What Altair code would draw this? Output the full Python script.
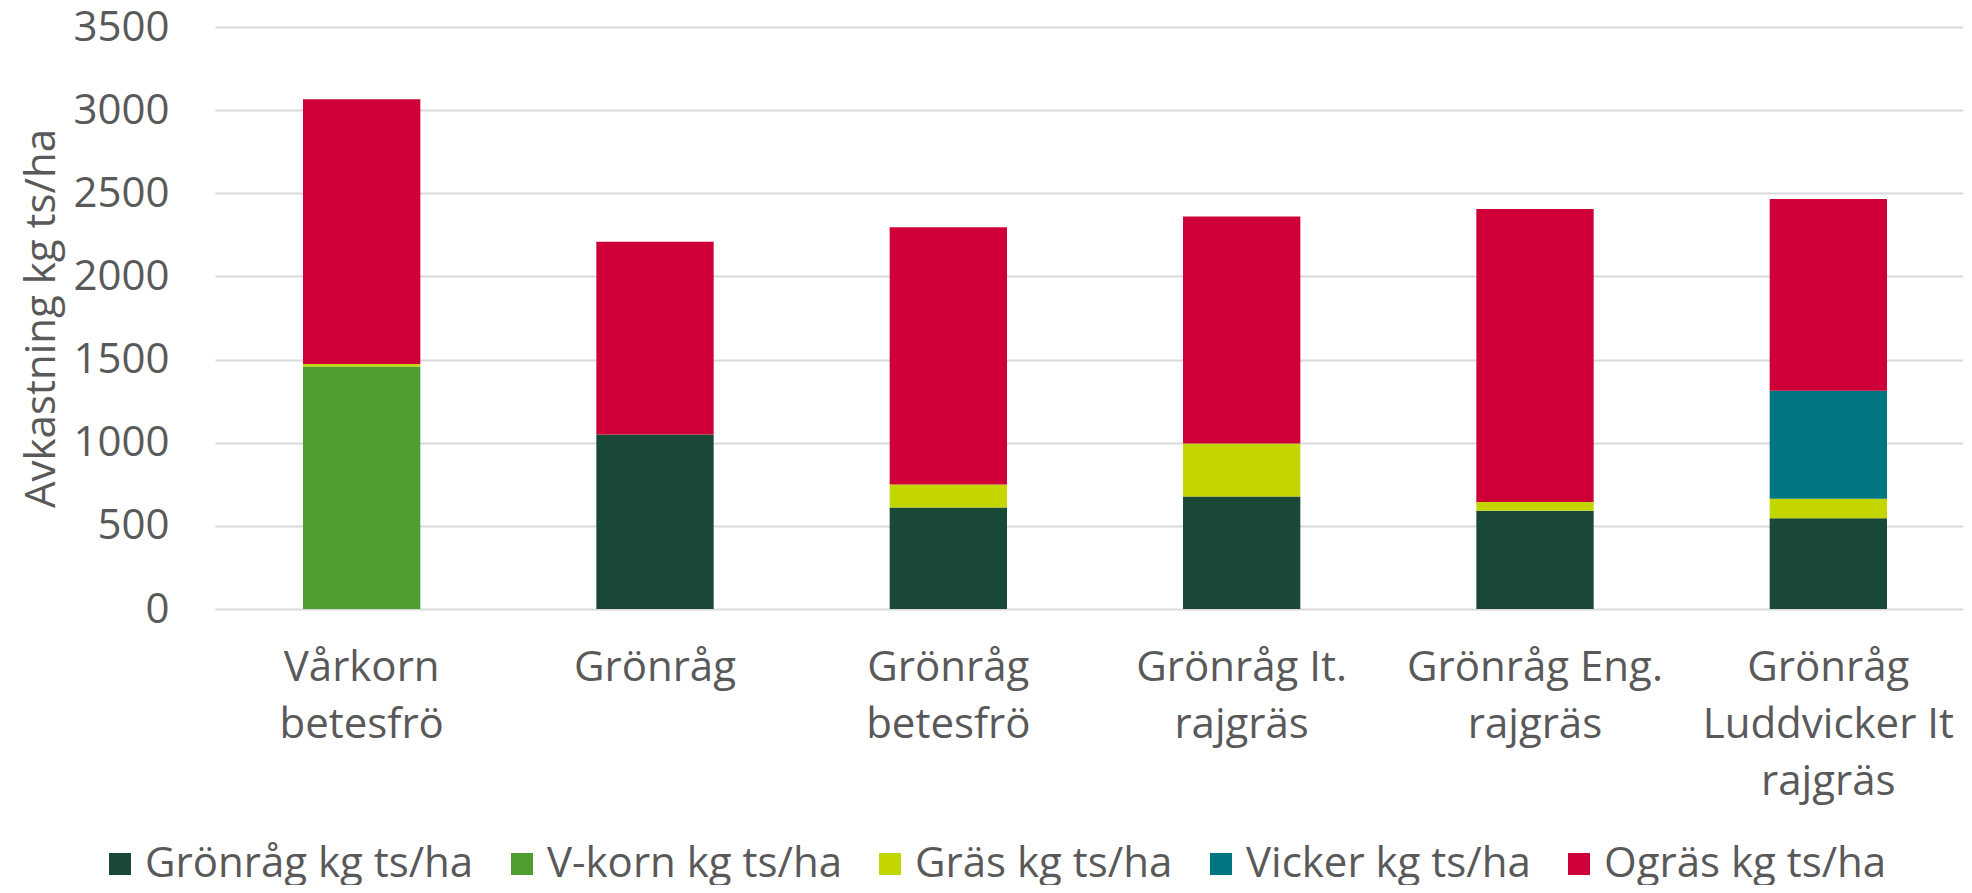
import json
import altair as alt
import pandas as pd

categories = [
    "Vårkorn betesfrö",
    "Grönråg",
    "Grönråg betesfrö",
    "Grönråg It. rajgräs",
    "Grönråg Eng. rajgräs",
    "Grönråg Luddvicker It rajgräs",
]
label_lines = [
    ["Vårkorn", "betesfrö"],
    ["Grönråg"],
    ["Grönråg", "betesfrö"],
    ["Grönråg It.", "rajgräs"],
    ["Grönråg Eng.", "rajgräs"],
    ["Grönråg", "Luddvicker It", "rajgräs"],
]
series = [
    "Grönråg kg ts/ha",
    "V-korn kg ts/ha",
    "Gräs kg ts/ha",
    "Vicker kg ts/ha",
    "Ogräs kg ts/ha",
]
colors = ["#194836", "#509D30", "#C4D600", "#007680", "#CE0037"]
y_ticks = [0, 500, 1000, 1500, 2000, 2500, 3000, 3500]

gronrag = [0, 1050, 611, 676, 591, 546]
vkorn = [1458, 0, 0, 0, 0, 0]
gras = [15, 0, 137, 319, 52, 117]
vicker = [0, 0, 0, 0, 0, 649]
ogras = [1593, 1159, 1548, 1366, 1763, 1154]

values = [gronrag, vkorn, gras, vicker, ogras]
rows = []
for si, (s, vals) in enumerate(zip(series, values)):
    for c, v in zip(categories, vals):
        if v > 0:
            rows.append({"kategori": c, "serie": s, "varde": v, "ordning": si})
df = pd.DataFrame(rows)

label_map = json.dumps(dict(zip(categories, label_lines)), ensure_ascii=False)

FONT = "Open Sans"
TXT = "#595959"

chart = (
    alt.Chart(df)
    .mark_bar()
    .encode(
        x=alt.X(
            "kategori:N",
            sort=categories,
            scale=alt.Scale(paddingInner=0.6, paddingOuter=0.3, range=[0, 1760]),
            axis=alt.Axis(
                title=None,
                labelAngle=0,
                labelExpr=label_map + "[datum.label]",
                labelFont=FONT,
                labelFontSize=42,
                labelColor=TXT,
                labelLineHeight=57,
                labelBaseline="top",
                labelPadding=38,
                labelLimit=0,
                ticks=False,
                domain=False,
                grid=False,
            ),
        ),
        y=alt.Y(
            "varde:Q",
            stack="zero",
            scale=alt.Scale(domain=[0, 3500], nice=False),
            axis=alt.Axis(
                title="Avkastning kg ts/ha",
                values=y_ticks,
                format="d",
                labelFont=FONT,
                labelFontSize=42,
                labelColor=TXT,
                labelPadding=46,
                ticks=False,
                domain=False,
                grid=True,
                gridColor="#D9D9D9",
                gridWidth=2,
                titleFont=FONT,
                titleFontSize=42,
                titleFontWeight="normal",
                titleColor=TXT,
                titleAngle=270,
                titleX=-174,
                titleY=291,
                titleAlign="center",
                titleBaseline="middle",
            ),
        ),
        color=alt.Color(
            "serie:N",
            scale=alt.Scale(domain=series, range=colors),
            legend=alt.Legend(
                title=None,
                orient="none",
                direction="horizontal",
                columns=5,
                legendX=-116,
                legendY=816,
                padding=0,
                symbolType="square",
                symbolSize=484,
                symbolStrokeWidth=0,
                labelFont=FONT,
                labelFontSize=42,
                labelColor=TXT,
                labelOffset=4,
                labelLimit=0,
                columnPadding=27,
            ),
        ),
        order=alt.Order("ordning:Q", sort="ascending"),
    )
    .properties(
        width=1748,
        height=582,
        padding={"left": 207, "top": 19, "right": 0, "bottom": 276},
        autosize=alt.AutoSizeParams(type="none"),
    )
    .configure_view(stroke=None)
)

chart.save("out.html", embed_options={"renderer": "svg", "actions": False})
